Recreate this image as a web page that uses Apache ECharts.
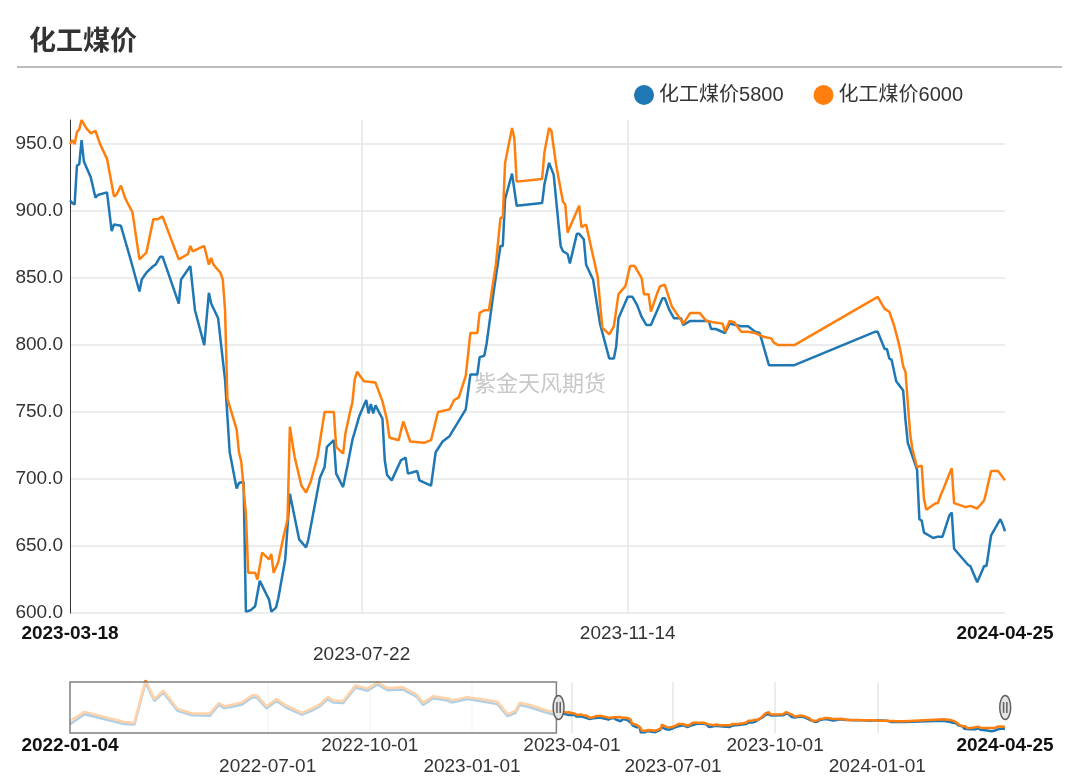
<!DOCTYPE html>
<html><head><meta charset="utf-8">
<script src="https://cdn.jsdelivr.net/npm/echarts@6/dist/echarts.min.js"></script>
<style>html,body{margin:0;padding:0;background:#fff}#c{width:1080px;height:784px}</style>
</head><body><div id="c"></div>
<script>
const titleText = '化工煤价';
const seriesNames = ['化工煤价5800', '化工煤价6000'];
const seriesColors = ['#1f77b4', '#ff7f0e'];
const watermarkText = '紫金天风期货';

const earlyDates = ['2022-01-04','2022-01-17','2022-02-22','2022-03-03','2022-03-13','2022-03-21','2022-03-29','2022-04-11','2022-04-24','2022-05-10','2022-05-18','2022-05-23','2022-05-30','2022-06-08','2022-06-17','2022-06-21','2022-06-30','2022-07-09','2022-07-18','2022-08-01','2022-08-11','2022-08-17','2022-08-24','2022-08-29','2022-09-07','2022-09-18','2022-09-29','2022-10-08','2022-10-17','2022-10-31','2022-11-12','2022-11-18','2022-11-27','2022-12-10','2022-12-14','2022-12-28','2023-01-24','2023-02-02','2023-02-09','2023-02-13','2023-02-22','2023-03-08'];
const early5800 = [745,925,750,740,1490,1160,1310,985,905,900,1090,1035,1060,1100,1225,1230,1030,1160,1040,920,1000,1065,1195,1135,1125,1400,1345,1455,1355,1365,1240,1090,1210,1170,1135,1195,1105,890,945,1090,1050,960];
const early6000 = [805,967,787,775,1530,1195,1347,1020,938,938,1125,1067,1095,1137,1265,1265,1067,1195,1077,950,1037,1102,1230,1172,1160,1440,1382,1495,1392,1405,1277,1130,1247,1207,1172,1230,1147,927,985,1130,1090,1000];

const dates5800 = ['2023-03-18','2023-03-19','2023-03-20','2023-03-21','2023-03-22','2023-03-23','2023-03-24','2023-03-27','2023-03-29','2023-03-30','2023-04-03','2023-04-05','2023-04-06','2023-04-09','2023-04-13','2023-04-17','2023-04-18','2023-04-20','2023-04-23','2023-04-24','2023-04-26','2023-04-27','2023-05-04','2023-05-05','2023-05-07','2023-05-09','2023-05-11','2023-05-15','2023-05-17','2023-05-18','2023-05-21','2023-05-24','2023-05-26','2023-05-29','2023-05-30','2023-06-01','2023-06-02','2023-06-04','2023-06-06','2023-06-08','2023-06-12','2023-06-13','2023-06-15','2023-06-16','2023-06-19','2023-06-21','2023-06-25','2023-06-28','2023-06-29','2023-07-04','2023-07-06','2023-07-07','2023-07-10','2023-07-11','2023-07-14','2023-07-16','2023-07-18','2023-07-21','2023-07-24','2023-07-25','2023-07-26','2023-07-27','2023-07-28','2023-07-31','2023-08-01','2023-08-02','2023-08-04','2023-08-08','2023-08-10','2023-08-11','2023-08-15','2023-08-16','2023-08-21','2023-08-23','2023-08-26','2023-08-29','2023-09-05','2023-09-07','2023-09-10','2023-09-11','2023-09-13','2023-09-14','2023-09-17','2023-09-20','2023-09-21','2023-09-22','2023-09-25','2023-09-27','2023-10-08','2023-10-09','2023-10-11','2023-10-13','2023-10-16','2023-10-17','2023-10-19','2023-10-20','2023-10-23','2023-10-24','2023-10-26','2023-10-27','2023-10-30','2023-11-02','2023-11-06','2023-11-08','2023-11-09','2023-11-10','2023-11-14','2023-11-16','2023-11-18','2023-11-20','2023-11-22','2023-11-24','2023-11-29','2023-11-30','2023-12-02','2023-12-04','2023-12-07','2023-12-08','2023-12-11','2023-12-19','2023-12-20','2023-12-22','2023-12-26','2023-12-28','2024-01-02','2024-01-05','2024-01-08','2024-01-10','2024-01-14','2024-01-25','2024-02-29','2024-03-01','2024-03-04','2024-03-05','2024-03-06','2024-03-07','2024-03-09','2024-03-12','2024-03-13','2024-03-14','2024-03-18','2024-03-19','2024-03-20','2024-03-21','2024-03-25','2024-03-27','2024-03-29','2024-04-01','2024-04-02','2024-04-03','2024-04-09','2024-04-10','2024-04-13','2024-04-16','2024-04-17','2024-04-19','2024-04-23','2024-04-24','2024-04-25'];
const values5800 = [908,906,905,934,935,953,937,925,910,912,914,885,890,889,865,840,849,854,859,860,866,866,831,849,854,859,826,800,839,831,820,774,720,693,697,698,601,602,605,624,610,601,604,611,640,689,655,649,655,701,709,724,729,704,694,711,729,747,759,749,756,749,755,745,714,703,699,714,716,704,706,699,695,720,728,732,752,778,778,791,792,801,839,874,874,909,928,904,906,920,936,927,874,870,868,861,883,883,879,860,849,816,790,790,799,820,836,836,830,821,815,815,835,835,826,820,820,815,818,818,812,812,809,816,814,814,810,809,785,785,810,810,797,797,790,789,773,766,744,727,707,670,669,660,656,657,657,673,675,648,636,635,623,635,635,658,670,666,661];

const dates6000 = ['2023-03-18','2023-03-19','2023-03-20','2023-03-21','2023-03-22','2023-03-23','2023-03-24','2023-03-25','2023-03-27','2023-03-29','2023-03-31','2023-04-03','2023-04-06','2023-04-07','2023-04-09','2023-04-11','2023-04-14','2023-04-17','2023-04-20','2023-04-23','2023-04-25','2023-04-27','2023-05-04','2023-05-08','2023-05-09','2023-05-10','2023-05-15','2023-05-17','2023-05-18','2023-05-19','2023-05-22','2023-05-23','2023-05-24','2023-05-25','2023-05-29','2023-05-30','2023-05-31','2023-06-02','2023-06-03','2023-06-06','2023-06-07','2023-06-09','2023-06-12','2023-06-13','2023-06-14','2023-06-16','2023-06-18','2023-06-20','2023-06-21','2023-06-23','2023-06-26','2023-06-28','2023-06-30','2023-07-03','2023-07-06','2023-07-10','2023-07-11','2023-07-14','2023-07-15','2023-07-17','2023-07-18','2023-07-19','2023-07-20','2023-07-23','2023-07-28','2023-07-31','2023-08-02','2023-08-03','2023-08-07','2023-08-09','2023-08-12','2023-08-18','2023-08-21','2023-08-24','2023-08-29','2023-08-31','2023-09-02','2023-09-05','2023-09-07','2023-09-10','2023-09-11','2023-09-13','2023-09-15','2023-09-18','2023-09-20','2023-09-21','2023-09-22','2023-09-25','2023-09-26','2023-09-27','2023-10-08','2023-10-09','2023-10-11','2023-10-12','2023-10-14','2023-10-17','2023-10-18','2023-10-19','2023-10-24','2023-10-25','2023-10-27','2023-11-01','2023-11-03','2023-11-06','2023-11-08','2023-11-10','2023-11-13','2023-11-15','2023-11-17','2023-11-20','2023-11-21','2023-11-23','2023-11-24','2023-11-27','2023-11-28','2023-11-30','2023-12-03','2023-12-08','2023-12-11','2023-12-15','2023-12-18','2023-12-21','2023-12-25','2023-12-26','2023-12-28','2023-12-30','2024-01-02','2024-01-05','2024-01-08','2024-01-12','2024-01-15','2024-01-16','2024-01-18','2024-01-25','2024-03-01','2024-03-04','2024-03-06','2024-03-08','2024-03-10','2024-03-11','2024-03-12','2024-03-13','2024-03-15','2024-03-16','2024-03-18','2024-03-20','2024-03-21','2024-03-22','2024-03-26','2024-03-27','2024-03-28','2024-03-29','2024-04-01','2024-04-02','2024-04-03','2024-04-08','2024-04-10','2024-04-13','2024-04-16','2024-04-17','2024-04-19','2024-04-22','2024-04-25'];
const values6000 = [950,953,950,959,961,968,965,962,958,960,950,939,911,912,919,909,899,864,869,894,894,896,864,868,874,870,874,860,865,860,854,849,826,760,737,720,713,674,630,630,625,645,640,644,630,638,655,670,739,717,695,690,698,717,750,750,724,719,734,750,757,774,780,773,772,758,744,731,729,743,728,727,729,750,752,759,761,777,809,809,824,826,826,860,895,895,936,962,954,922,924,944,962,960,935,907,905,884,904,888,890,851,813,808,814,838,844,859,859,850,838,838,825,840,844,845,829,816,824,824,818,817,816,810,818,817,810,810,809,806,805,802,800,800,836,827,825,815,802,794,784,780,734,722,709,710,685,677,682,682,687,691,704,708,682,679,680,678,684,691,706,706,699];

const windowStart = '2023-03-18';
const mainTickLabels = ['2023-03-18','2023-07-22','2023-11-14','2024-04-25'];
const mainLabelRows = [1,2,1,1];
const miniTickLabels = ['2022-01-04','2022-07-01','2022-10-01','2023-01-01','2023-04-01','2023-07-01','2023-10-01','2024-01-01','2024-04-25'];
const miniLabelRows = [1,2,1,2,1,2,1,2,1];
const yMin = 600, yInterval = 50;
const miniYMin = 590, miniYMax = 1500;

const FONT = '"Liberation Sans", "Noto Sans CJK SC", sans-serif';
const ts = s => echarts.time.parse(s).getTime();
const pairs = (d, v) => d.map((x, i) => [ts(x), v[i]]);
const full5800 = pairs(earlyDates, early5800).concat(pairs(dates5800, values5800));
const full6000 = pairs(earlyDates, early6000).concat(pairs(dates6000, values6000));
const lastDate = dates5800[dates5800.length - 1];

function makeFormatter(labels, rows) {
  return function (value) {
    const s = echarts.time.format(value, '{yyyy}-{MM}-{dd}', false);
    const i = labels.indexOf(s);
    if (i < 0) return '';
    const bold = i === 0 || i === labels.length - 1;
    return (rows[i] === 2 ? '\n' : '') + '{' + (bold ? 'b' : 'n') + '|' + s + '}';
  };
}
const richStyles = {
  n: { fontSize: 19, lineHeight: 21, color: '#333', fontFamily: FONT },
  b: { fontSize: 19, lineHeight: 21, color: '#111', fontWeight: 'bold', fontFamily: FONT }
};
const splitStyle = { color: '#e6e6e6', width: 1.5 };

const chart = echarts.init(document.getElementById('c'));
const option = {
  animation: false,
  title: {
    text: titleText, left: 24, top: 21,
    textStyle: { fontSize: 27, fontWeight: 'bold', color: '#333', fontFamily: '"Noto Sans CJK SC", sans-serif' }
  },
  legend: {
    data: seriesNames, top: 80, right: 112, icon: 'circle', itemWidth: 20, itemHeight: 20, itemGap: 30,
    textStyle: { fontSize: 20, color: '#333', fontFamily: FONT }
  },
  grid: [
    { left: 70, right: 75, top: 120, bottom: 171 },
    { left: 70, right: 75, top: 682, height: 51 }
  ],
  xAxis: [
    {
      type: 'value', gridIndex: 0, scale: true, max: 'dataMax',
      axisLine: { show: false },
      axisTick: { show: false, customValues: mainTickLabels.slice(1, -1).map(ts) },
      axisLabel: { customValues: mainTickLabels.map(ts), formatter: makeFormatter(mainTickLabels, mainLabelRows),
        fontSize: 19, lineHeight: 21, color: '#333', margin: 10, fontFamily: FONT, rich: richStyles, hideOverlap: false },
      splitLine: { show: true, lineStyle: splitStyle }
    },
    {
      type: 'value', gridIndex: 1, min: ts(earlyDates[0]), max: ts(lastDate),
      axisLine: { show: false },
      axisTick: { show: false, customValues: miniTickLabels.slice(1, -1).map(ts) },
      axisLabel: { customValues: miniTickLabels.map(ts), formatter: makeFormatter(miniTickLabels, miniLabelRows),
        fontSize: 19, lineHeight: 21, color: '#333', margin: 2, fontFamily: FONT, rich: richStyles, hideOverlap: false },
      splitLine: { show: true, lineStyle: splitStyle }
    }
  ],
  yAxis: [
    {
      type: 'value', gridIndex: 0, min: yMin, max: 'dataMax', interval: yInterval,
      axisLine: { show: true, lineStyle: { color: '#333', width: 1 } },
      axisTick: { show: false },
      axisLabel: { formatter: v => v.toFixed(1), fontSize: 19, color: '#333', margin: 7, fontFamily: FONT, showMaxLabel: false },
      splitLine: { show: true, lineStyle: splitStyle, showMaxLine: false }
    },
    { type: 'value', gridIndex: 1, min: miniYMin, max: miniYMax, show: false, splitLine: { show: false } }
  ],
  dataZoom: [{
    type: 'slider', xAxisIndex: 0, filterMode: 'filter',
    startValue: ts(windowStart), endValue: ts(lastDate),
    left: 70, right: 75, top: 682, height: 51,
    showDataShadow: false, showDetail: false, brushSelect: false,
    backgroundColor: 'rgba(0,0,0,0)', borderColor: 'rgba(0,0,0,0)', fillerColor: 'rgba(0,0,0,0)',
    handleIcon: 'path://M5,0 A5,11 0 1 1 5,22 A5,11 0 1 1 5,0 Z M3.5,6 L3.5,16 M6.5,6 L6.5,16',
    handleSize: 24,
    handleStyle: { color: '#e4e4e4', borderColor: '#606060', borderWidth: 1.5 },
    moveHandleSize: 0, moveHandleStyle: { opacity: 0 },
    dataBackground: { lineStyle: { opacity: 0 }, areaStyle: { opacity: 0 } },
    selectedDataBackground: { lineStyle: { opacity: 0 }, areaStyle: { opacity: 0 } },
    z: 100
  }],
  series: [
    { name: seriesNames[0], type: 'line', xAxisIndex: 0, yAxisIndex: 0, data: full5800, symbol: 'none', showSymbol: false,
      color: seriesColors[0], lineStyle: { width: 2.5, color: seriesColors[0] } },
    { name: seriesNames[1], type: 'line', xAxisIndex: 0, yAxisIndex: 0, data: full6000, symbol: 'none', showSymbol: false,
      color: seriesColors[1], lineStyle: { width: 2.5, color: seriesColors[1] } },
    { name: seriesNames[0], type: 'line', xAxisIndex: 1, yAxisIndex: 1, data: full5800, symbol: 'none', showSymbol: false, silent: true, clip: false,
      color: seriesColors[0], lineStyle: { width: 2.5, color: seriesColors[0] } },
    { name: seriesNames[1], type: 'line', xAxisIndex: 1, yAxisIndex: 1, data: full6000, symbol: 'none', showSymbol: false, silent: true, clip: false,
      color: seriesColors[1], lineStyle: { width: 2.5, color: seriesColors[1] } }
  ]
};
chart.setOption(option);

const sx0 = chart.convertToPixel({ xAxisIndex: 1 }, ts(earlyDates[0]));
const sx1 = chart.convertToPixel({ xAxisIndex: 1 }, ts(windowStart));
const sy0 = chart.convertToPixel({ yAxisIndex: 1 }, miniYMax);
const sy1 = chart.convertToPixel({ yAxisIndex: 1 }, miniYMin);
chart.setOption({
  graphic: [
    { type: 'line', silent: true, shape: { x1: 17, y1: 67, x2: 1062, y2: 67 }, style: { stroke: '#bdbdbd', lineWidth: 2 }, z: 1 },
    { type: 'text', silent: true, left: 474, top: 372, style: { text: watermarkText, fontSize: 22, fill: '#c8c8c8', fontFamily: '"Noto Sans CJK SC", sans-serif' }, z: 1 },
    { type: 'rect', silent: true, shape: { x: sx0, y: sy0, width: sx1 - sx0, height: sy1 - sy0 },
      style: { fill: 'rgba(255,255,255,0.65)', stroke: '#808080', lineWidth: 1.5 }, z: 50 }
  ]
});
</script></body></html>
